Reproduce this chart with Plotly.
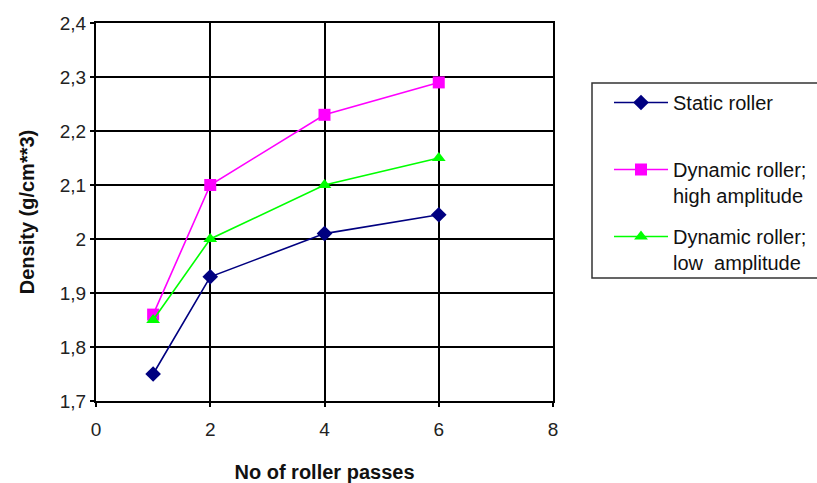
import plotly.graph_objects as go

# Number of roller passes
passes = [1, 2, 4, 6]

# Measured density (g/cm^3) per roller type
static_roller = [1.75, 1.93, 2.01, 2.045]
dynamic_high = [1.86, 2.10, 2.23, 2.29]
dynamic_low = [1.85, 2.00, 2.10, 2.15]

# Axis ticks
x_ticks = [0, 2, 4, 6, 8]
y_ticks = [1.7, 1.8, 1.9, 2.0, 2.1, 2.2, 2.3, 2.4]
y_tick_labels = ["1,7", "1,8", "1,9", "2", "2,1", "2,2", "2,3", "2,4"]

font_family = "Liberation Sans, Arial, sans-serif"

# Plot area in pixels
W, H = 817, 483
ML, MR, MT, MB = 96, 264, 23, 82
plot_w = W - ML - MR
plot_h = H - MT - MB


def px_x(px):
    return (px - ML) / plot_w


def px_y(py):
    return 1 - (py - MT) / plot_h


fig = go.Figure()

fig.add_trace(go.Scatter(
    x=passes, y=static_roller, mode="lines+markers",
    name="Static roller<br> ", legendgroup="a",
    line=dict(color="#000080", width=1.6),
    marker=dict(symbol="diamond", size=12, color="#000080"),
))
fig.add_trace(go.Scatter(
    x=passes, y=dynamic_high, mode="lines+markers",
    name="Dynamic roller;<br>high amplitude", legendgroup="b",
    line=dict(color="#FF00FF", width=1.6),
    marker=dict(symbol="square", size=12, color="#FF00FF"),
))
fig.add_trace(go.Scatter(
    x=passes, y=dynamic_low, mode="lines+markers",
    name="Dynamic roller;<br>low  amplitude", legendgroup="c",
    line=dict(color="#00FF00", width=1.6),
    marker=dict(symbol="triangle-up", size=12, color="#00FF00"),
))

axis_common = dict(
    showline=True, linecolor="black", linewidth=2, mirror=True,
    showgrid=True, gridcolor="black", gridwidth=1.6,
    ticks="outside", ticklen=4, tickcolor="black", tickwidth=1.5,
    zeroline=False, automargin=False,
    tickfont=dict(family=font_family, size=19, color="#222"),
)

fig.update_xaxes(
    range=[0, 8], tickvals=x_ticks, ticklabelstandoff=6,
    title=dict(text="<b>No of roller passes</b>",
               font=dict(family=font_family, size=20, color="#111"), standoff=26),
    **axis_common,
)
fig.update_yaxes(
    range=[1.7, 2.4], tickvals=y_ticks, ticktext=y_tick_labels,
    title=dict(text="<b>Density (g/cm**3)</b>",
               font=dict(family=font_family, size=20, color="#111"), standoff=20),
    **axis_common,
)

fig.update_layout(
    width=W, height=H,
    margin=dict(l=ML, r=MR, t=MT, b=MB, autoexpand=False),
    plot_bgcolor="white", paper_bgcolor="white",
    font=dict(family=font_family, size=20, color="#111"),
    legend=dict(
        x=px_x(609), y=px_y(83), xanchor="left", yanchor="top",
        borderwidth=0, bgcolor="rgba(0,0,0,0)",
        font=dict(family=font_family, size=20, color="#111"),
        tracegroupgap=12, valign="top", itemwidth=54,
    ),
    showlegend=True,
    shapes=[dict(
        type="rect", xref="paper", yref="paper",
        x0=px_x(592), x1=px_x(830), y0=px_y(278), y1=px_y(83),
        line=dict(color="#333", width=1.5), fillcolor="rgba(0,0,0,0)",
    )],
)

fig.write_html("out.html")
